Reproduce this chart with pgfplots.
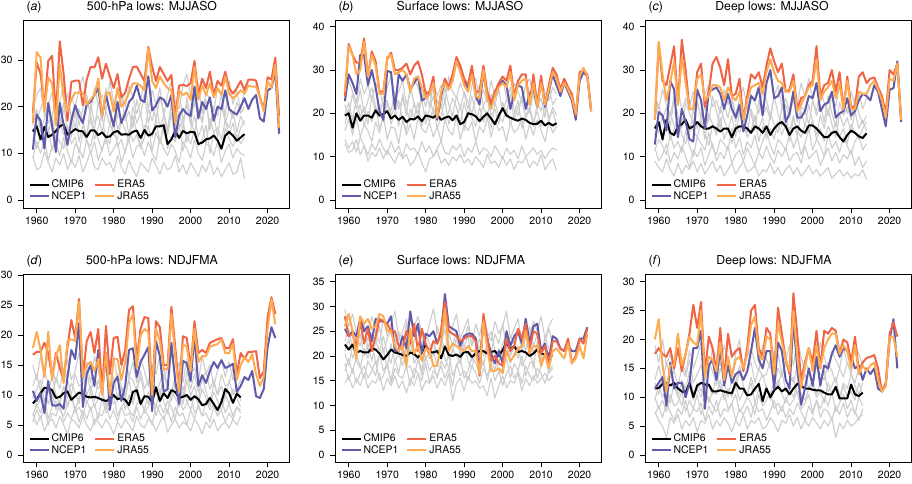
\documentclass[border=0pt]{standalone}
\usepackage{pgfplots}
\usepackage{pgfplotstable}
\pgfplotsset{compat=1.18}
\usepackage{fontspec}
\setmainfont{TeX Gyre Heros}
\definecolor{ncepc}{RGB}{95,90,170}
\definecolor{erac}{RGB}{240,100,70}
\definecolor{jrac}{RGB}{253,170,80}
\definecolor{grayc}{RGB}{205,205,205}
\newcommand{\tfont}{\fontsize{12.3}{14}\selectfont}
\newcommand{\lfont}{\fontsize{10.5}{12}\selectfont}

% ---------- Panel A: 500-hPa lows MJJASO ----------
\pgfplotstableread{
year ncep era jra
1959 10.8 18.6 16.5
1960 18.3 29.5 31.7
1961 17.0 27.0 30.5
1962 11.0 20.0 19.0
1963 20.8 29.8 26.3
1964 16.0 30.9 25.0
1965 10.3 18.0 16.0
1966 20.8 34.0 29.0
1967 16.0 27.0 22.0
1968 11.8 17.0 19.0
1969 17.0 25.3 21.5
1970 20.3 25.6 23.0
1971 18.0 25.6 23.0
1972 16.5 20.3 23.0
1973 20.5 25.8 20.5
1974 21.0 28.5 21.5
1975 22.5 28.4 22.5
1976 24.0 30.6 26.0
1977 18.0 26.0 18.0
1978 22.5 29.2 23.0
1979 19.0 26.5 23.0
1980 15.8 24.0 19.0
1981 21.0 27.0 24.0
1982 16.5 22.0 20.0
1983 18.5 23.0 21.0
1984 21.0 26.0 23.0
1985 22.0 28.5 25.0
1986 24.5 28.6 25.0
1987 21.5 27.0 24.5
1988 21.0 25.5 23.5
1989 26.5 32.8 32.5
1990 19.2 28.5 25.5
1991 20.3 25.5 24.0
1992 22.0 28.5 26.5
1993 21.5 27.0 25.0
1994 20.0 25.5 24.0
1995 22.5 26.8 23.5
1996 13.5 17.8 16.5
1997 18.0 24.5 23.5
1998 19.5 24.7 22.5
1999 18.5 24.4 23.0
2000 18.0 25.0 21.5
2001 24.3 29.8 28.5
2002 17.5 22.5 21.5
2003 21.0 26.0 24.5
2004 19.5 24.0 22.5
2005 22.0 27.5 25.0
2006 17.0 22.5 22.0
2007 20.0 25.5 24.0
2008 19.5 24.5 22.5
2009 23.5 27.5 26.5
2010 19.5 24.0 22.8
2011 18.8 22.8 21.8
2012 18.3 24.0 22.5
2013 20.0 25.5 23.5
2014 21.8 23.5 22.8
2015 19.5 25.8 24.5
2016 21.5 25.8 24.3
2017 22.5 25.6 24.3
2018 17.5 22.0 22.0
2019 16.8 19.5 19.0
2020 23.5 26.3 25.5
2021 24.0 25.8 24.0
2022 27.5 30.5 29.0
2023 14.2 18.0 15.5
}\Aobs
\pgfplotstableread{
year cmip g1 g2 g3 g4 g5 g6 g7
1959 14.7 19.5 21.0 16.0 12.5 15.0 9.0 9.5
1960 15.8 22.5 17.0 19.5 15.5 11.0 12.5 6.5
1961 13.0 24.0 19.5 14.5 17.0 13.5 10.0 7.0
1962 15.7 18.0 22.0 17.5 13.0 12.0 13.0 10.5
1963 13.5 20.5 16.5 20.0 14.5 15.5 8.5 8.0
1964 14.0 23.0 18.0 15.0 18.0 10.5 11.5 6.0
1965 14.8 17.5 21.5 18.5 12.0 14.0 12.0 9.0
1966 15.8 21.0 15.5 16.0 16.5 12.5 9.5 7.5
1967 16.2 25.0 19.0 21.0 14.0 11.0 13.5 10.0
1968 14.0 19.0 23.0 14.0 15.5 16.0 10.5 6.5
1969 14.5 22.0 17.5 18.0 13.5 12.0 8.0 8.5
1970 15.2 20.0 20.5 15.5 19.0 13.5 12.0 7.0
1971 14.8 23.5 16.0 19.5 12.5 10.0 11.0 9.5
1972 14.7 26.5 19.5 17.0 16.0 14.5 9.0 6.0
1973 13.5 21.5 22.5 13.5 14.0 12.5 13.0 8.0
1974 14.9 18.5 18.0 20.5 17.5 11.5 10.0 10.5
1975 14.9 24.0 15.0 16.5 13.0 15.0 12.5 7.0
1976 13.9 20.5 21.0 18.0 15.5 13.0 8.5 6.5
1977 14.5 22.5 17.0 14.5 18.5 10.5 11.0 9.0
1978 13.5 19.0 24.0 19.0 12.0 14.0 13.5 7.5
1979 13.6 25.5 18.5 16.0 16.5 12.0 9.5 8.0
1980 14.5 21.0 16.5 21.5 14.0 16.5 11.0 6.0
1981 14.8 17.5 20.0 15.0 13.0 11.5 12.5 9.5
1982 14.0 23.0 22.5 17.5 17.0 13.0 8.0 7.0
1983 14.1 20.0 17.0 19.0 15.0 10.0 10.5 5.5
1984 14.0 24.5 19.0 13.5 12.5 15.0 13.0 8.5
1985 14.6 22.0 15.5 20.0 18.0 12.5 9.0 6.5
1986 14.9 18.5 21.5 16.5 14.5 14.0 11.5 5.0
1987 13.3 21.0 18.0 18.5 11.5 11.0 12.0 8.0
1988 15.0 26.0 23.0 14.0 16.0 13.5 9.5 7.0
1989 13.8 19.5 16.5 19.5 15.5 16.0 12.5 6.0
1990 14.2 23.5 20.0 17.0 13.5 10.5 10.0 9.0
1991 15.8 20.5 17.5 21.0 17.5 14.5 8.5 7.5
1992 15.8 24.0 22.0 15.5 12.0 12.0 13.5 5.5
1993 16.0 18.0 19.0 18.0 16.5 15.5 11.0 8.0
1994 12.0 22.5 15.0 14.5 14.0 11.0 9.5 6.5
1995 13.0 25.5 21.0 20.5 18.5 13.5 12.0 7.0
1996 14.8 21.0 18.5 16.0 13.0 12.5 10.5 9.5
1997 13.3 19.5 23.5 19.0 15.5 16.5 8.0 6.0
1998 14.8 24.5 17.0 15.0 17.0 10.5 12.5 7.5
1999 14.3 27.0 20.5 22.0 12.5 14.0 11.0 5.5
2000 14.6 22.0 16.0 17.5 15.0 12.0 9.0 8.0
2001 14.5 20.0 22.0 14.0 18.0 15.0 13.0 6.5
2002 12.0 25.0 19.5 19.5 13.5 11.5 10.0 5.0
2003 12.3 18.5 17.0 16.5 16.0 13.0 8.5 7.5
2004 13.0 23.0 21.5 21.0 12.0 16.0 12.0 6.0
2005 13.2 21.5 15.5 15.0 17.5 10.0 11.5 8.5
2006 13.8 19.0 20.0 18.5 14.5 14.5 9.5 5.5
2007 12.8 24.0 18.0 13.5 15.5 12.5 12.5 7.0
2008 11.0 22.5 23.0 20.0 13.0 11.0 8.0 5.0
2009 13.8 18.0 16.5 17.0 17.0 15.5 10.5 6.5
2010 14.6 25.5 19.5 15.5 14.0 13.0 12.0 8.0
2011 13.8 20.5 17.5 19.0 16.5 11.5 9.0 5.5
2012 12.7 23.5 21.0 14.5 12.5 14.0 11.0 6.0
2013 13.4 19.0 18.5 18.0 15.5 12.0 10.0 9.0
2014 14.1 24.0 20.0 16.0 17.0 13.5 9.5 4.5
}\Amod

% ---------- Panel B: Surface lows MJJASO ----------
\pgfplotstableread{
year ncep era jra
1959 22.8 24.0 25.0
1960 29.0 36.0 35.5
1961 27.0 33.5 33.5
1962 24.5 31.7 29.0
1963 33.5 31.7 30.0
1964 33.5 37.3 36.5
1965 26.5 28.5 28.5
1966 30.0 34.3 33.5
1967 26.0 32.0 31.0
1968 20.5 25.0 24.5
1969 18.5 25.0 24.5
1970 29.8 32.5 33.0
1971 29.5 34.0 33.5
1972 21.0 30.0 29.0
1973 29.0 30.0 29.5
1974 27.5 30.5 30.0
1975 29.0 31.5 29.0
1976 25.5 29.0 25.0
1977 27.0 31.0 28.0
1978 28.5 32.0 28.5
1979 23.0 29.0 26.0
1980 23.5 24.5 23.5
1981 24.5 25.0 24.5
1982 28.0 28.5 27.0
1983 18.5 19.0 19.0
1984 24.0 24.5 25.0
1985 27.5 28.0 27.0
1986 25.5 26.0 25.5
1987 28.0 29.0 27.5
1988 32.5 33.0 32.0
1989 30.5 31.0 29.5
1990 27.5 28.0 26.5
1991 26.0 26.5 25.0
1992 29.5 31.0 29.0
1993 24.0 25.0 24.0
1994 22.0 25.0 23.5
1995 29.5 31.0 30.0
1996 24.0 25.0 23.5
1997 22.0 22.5 21.0
1998 24.0 25.0 24.0
1999 26.5 27.0 26.0
2000 27.5 28.5 27.0
2001 26.5 27.5 26.0
2002 21.0 31.0 29.5
2003 24.5 24.0 23.0
2004 26.5 27.5 26.5
2005 26.0 29.0 27.5
2006 21.0 29.0 28.0
2007 24.5 22.0 22.0
2008 26.0 29.0 27.0
2009 21.5 22.0 21.5
2010 28.0 28.7 27.0
2011 21.5 22.0 22.0
2012 25.0 26.5 25.5
2013 29.0 30.5 29.5
2014 26.5 29.0 28.0
2015 24.0 25.5 25.0
2016 27.0 28.0 27.0
2017 25.0 26.0 25.5
2018 23.0 24.5 23.5
2019 18.5 19.5 20.0
2020 27.5 29.5 28.5
2021 29.5 30.0 30.5
2022 28.5 29.0 28.5
2023 20.5 20.5 20.5
}\Bobs
\pgfplotstableread{
year cmip g1 g2 g3 g4 g5 g6 g7
1959 19.5 24.0 22.0 20.0 17.5 16.0 14.0 13.0
1960 20.0 27.5 19.5 22.5 21.0 18.5 12.0 11.0
1961 16.7 25.0 24.5 18.5 16.0 15.0 13.5 11.5
1962 20.0 22.5 21.0 23.5 19.5 19.0 11.0 14.0
1963 18.3 28.0 25.5 19.0 22.0 14.5 14.5 10.5
1964 19.5 24.5 20.0 21.5 17.0 17.5 12.5 12.5
1965 19.5 26.5 23.0 17.5 20.5 16.0 10.5 9.0
1966 19.0 23.0 26.0 24.0 18.0 13.5 13.0 11.0
1967 20.7 27.0 21.5 20.0 21.5 18.0 11.5 10.0
1968 19.5 25.5 19.0 22.0 16.5 15.5 14.0 12.0
1969 19.8 21.5 24.0 18.0 19.0 19.5 12.0 9.5
1970 20.5 26.0 22.5 23.0 22.5 14.0 10.5 11.5
1971 18.8 28.5 20.5 19.5 17.5 17.0 13.5 10.0
1972 19.5 23.5 25.0 21.5 20.0 16.5 11.0 8.5
1973 18.5 25.0 21.0 17.0 23.0 13.0 12.5 11.0
1974 19.2 27.5 23.5 24.5 18.5 18.5 10.0 9.5
1975 18.0 22.0 19.5 20.5 16.0 15.0 13.0 10.5
1976 18.7 24.5 26.5 18.5 21.0 17.5 11.5 8.0
1977 18.6 28.0 22.0 22.5 19.0 14.0 12.0 9.0
1978 19.3 26.0 20.0 19.0 22.5 19.0 10.5 11.0
1979 18.2 23.0 24.5 23.5 17.0 16.5 13.5 8.5
1980 19.5 25.5 21.5 17.5 20.5 15.5 11.0 6.5
1981 19.3 21.5 25.5 21.0 18.0 18.0 12.5 9.5
1982 19.0 27.0 19.0 24.0 21.5 14.5 10.0 10.0
1983 19.7 24.0 23.0 19.5 16.5 17.0 12.0 11.5
1984 18.5 26.5 21.0 22.0 19.5 13.5 13.5 8.5
1985 19.0 22.5 26.0 18.0 23.0 18.5 11.0 9.5
1986 19.3 28.5 22.0 20.5 17.5 16.0 10.5 8.0
1987 18.4 25.0 19.5 23.5 20.0 15.0 12.5 10.0
1988 19.5 23.5 24.0 21.5 18.5 19.5 11.5 9.0
1989 17.5 27.0 21.0 17.5 22.0 14.0 13.0 10.5
1990 18.0 24.5 25.0 22.5 16.0 17.5 10.0 8.5
1991 20.0 21.0 22.5 19.0 20.5 16.0 12.0 9.5
1992 19.8 26.5 20.0 24.0 19.0 18.0 11.0 8.0
1993 19.3 28.0 23.5 20.0 17.0 13.5 13.5 10.0
1994 18.2 23.0 26.5 18.5 21.5 17.0 10.5 9.0
1995 19.2 25.5 21.5 22.0 18.0 15.5 12.0 7.5
1996 20.0 22.5 19.0 23.5 20.5 19.0 11.5 10.5
1997 18.8 27.5 24.5 19.5 16.5 14.5 10.0 8.5
1998 17.5 24.0 22.0 21.0 22.5 18.5 12.5 9.0
1999 19.5 26.0 25.5 17.5 19.5 16.0 11.0 7.5
2000 21.2 28.5 20.5 22.5 18.0 17.0 9.5 10.0
2001 19.5 23.5 23.0 20.0 21.0 13.5 12.0 8.0
2002 19.0 21.5 26.0 24.5 17.5 18.0 10.5 9.5
2003 18.6 27.0 21.0 18.5 20.0 15.5 11.5 7.0
2004 18.3 25.0 19.5 21.5 23.0 16.5 9.5 9.0
2005 18.8 22.5 24.0 23.0 16.5 19.0 12.5 8.5
2006 18.5 26.5 22.5 19.0 19.5 14.0 10.0 10.0
2007 17.8 28.0 20.0 21.0 21.5 17.5 11.0 7.5
2008 17.5 24.0 25.0 17.0 18.0 15.0 12.0 9.0
2009 17.6 21.0 21.5 22.5 20.5 18.5 10.5 8.0
2010 18.3 27.5 23.5 20.5 17.0 16.0 11.5 10.5
2011 17.2 25.0 19.0 24.0 22.0 13.5 9.5 7.0
2012 17.8 23.0 26.5 18.0 19.0 18.0 11.0 8.5
2013 17.2 26.0 22.0 21.5 20.5 15.5 12.0 9.5
2014 17.7 24.5 23.5 19.5 17.5 17.0 11.5 6.8
}\Bmod

% ---------- Panel C: Deep lows MJJASO ----------
\pgfplotstableread{
year ncep era jra
1959 12.8 18.5 18.5
1960 20.3 36.0 36.5
1961 19.5 27.5 29.0
1962 16.0 26.5 23.0
1963 27.5 31.0 27.0
1964 25.5 35.5 32.0
1965 14.5 22.0 22.0
1966 21.0 37.0 33.0
1967 18.0 30.0 27.0
1968 14.0 21.0 21.0
1969 13.5 21.0 21.0
1970 25.5 29.5 28.0
1971 23.0 31.5 29.0
1972 16.5 21.5 23.0
1973 25.0 25.0 24.0
1974 25.5 31.5 26.5
1975 26.0 33.0 26.5
1976 24.5 30.5 26.0
1977 21.0 26.5 23.0
1978 24.5 32.5 26.0
1979 21.0 24.0 24.0
1980 19.0 24.5 23.0
1981 22.0 28.0 25.0
1982 15.8 18.5 18.5
1983 19.5 24.0 23.0
1984 24.0 29.0 26.0
1985 23.0 28.0 26.5
1986 26.0 29.5 27.0
1987 19.5 26.0 24.5
1988 27.0 31.0 29.5
1989 30.0 35.0 32.5
1990 23.5 32.0 29.5
1991 24.0 29.5 27.5
1992 26.0 31.5 27.0
1993 18.0 25.0 25.0
1994 20.0 25.5 25.0
1995 25.0 29.0 27.5
1996 19.0 21.0 20.5
1997 19.0 23.5 22.0
1998 20.5 24.0 24.0
1999 24.0 26.5 26.0
2000 23.5 27.5 26.5
2001 27.0 35.5 32.5
2002 20.5 24.0 23.0
2003 22.0 26.5 25.0
2004 22.5 27.0 26.0
2005 25.0 30.0 27.5
2006 19.0 25.0 23.5
2007 20.0 29.5 27.0
2008 20.5 21.0 21.0
2009 23.5 28.5 27.5
2010 19.5 21.5 21.0
2011 20.5 21.5 21.0
2012 23.0 28.5 25.0
2013 24.5 29.5 24.5
2014 24.0 27.0 24.5
2015 23.0 28.0 26.5
2016 26.5 28.3 27.5
2017 25.0 26.0 25.5
2018 21.0 24.0 23.0
2019 17.0 20.0 19.0
2020 25.5 30.0 28.0
2021 25.8 29.0 27.5
2022 32.0 31.5 31.5
2023 18.0 18.5 18.5
}\Cobs
\pgfplotstableread{
year cmip g1 g2 g3 g4 g5 g6 g7
1959 16.5 24.5 19.0 17.5 15.0 11.5 12.0 9.0
1960 18.0 21.0 22.0 15.5 17.5 14.0 9.0 7.5
1961 14.0 25.5 18.5 19.5 13.5 12.5 10.5 6.5
1962 18.5 22.0 21.5 16.0 18.5 10.5 13.0 9.5
1963 15.5 19.5 17.0 20.5 14.0 15.0 8.5 7.0
1964 15.0 24.0 23.5 17.0 16.5 12.0 11.0 5.5
1965 17.0 26.0 19.5 14.5 19.0 13.5 9.5 8.5
1966 17.5 20.5 16.5 19.0 15.0 11.0 12.5 6.0
1967 18.5 23.5 22.5 18.0 13.0 16.0 10.0 8.0
1968 16.5 21.5 20.0 15.0 17.0 12.5 7.5 7.0
1969 17.0 25.0 17.5 21.0 16.0 10.0 11.5 9.0
1970 18.0 22.5 23.0 16.5 14.5 14.5 10.0 6.5
1971 17.0 19.0 19.0 19.0 18.0 13.0 12.0 8.5
1972 16.5 24.5 21.5 14.0 15.5 11.5 8.0 6.0
1973 16.5 26.5 18.0 20.0 12.5 15.5 10.5 7.5
1974 17.0 21.5 24.0 17.5 17.5 12.0 13.0 9.0
1975 16.5 23.0 20.5 15.5 15.0 10.5 9.0 6.5
1976 15.8 20.0 16.5 21.5 19.0 14.0 11.0 8.0
1977 16.5 25.5 22.0 18.5 14.0 13.0 9.5 5.5
1978 16.5 22.0 19.0 16.0 16.5 11.5 12.5 7.0
1979 14.5 24.0 23.5 19.5 13.0 16.5 8.5 8.5
1980 16.5 19.5 18.0 14.5 17.5 12.0 10.5 6.0
1981 17.0 23.5 21.0 20.5 15.5 14.5 11.5 7.5
1982 17.0 26.0 17.5 17.0 18.5 10.5 9.0 9.0
1983 16.5 21.0 22.5 15.5 14.5 13.5 12.0 6.5
1984 15.5 24.5 20.0 21.0 16.0 12.0 10.0 7.0
1985 17.0 22.5 16.0 18.0 19.5 15.0 8.0 8.0
1986 16.5 20.0 23.0 16.5 13.5 11.0 11.0 5.5
1987 15.5 25.0 19.5 19.0 17.0 13.5 9.5 7.0
1988 17.0 23.0 21.5 14.0 15.5 16.0 12.5 6.5
1989 15.0 19.5 18.5 20.0 16.5 12.5 10.0 8.5
1990 16.5 24.0 24.0 17.5 14.0 10.5 8.5 6.0
1991 17.5 26.5 20.0 15.5 18.0 14.0 11.5 7.5
1992 18.0 21.5 17.0 21.5 15.0 13.0 10.0 5.5
1993 17.0 23.5 22.0 18.5 17.5 11.5 12.0 7.0
1994 15.0 20.5 19.0 16.0 13.5 15.5 9.0 8.0
1995 16.5 25.5 23.5 19.5 19.0 12.0 10.5 6.0
1996 17.0 22.0 18.0 14.5 16.0 14.5 11.0 7.5
1997 16.0 27.0 21.5 20.5 14.5 10.5 8.5 5.5
1998 15.5 24.0 20.5 17.0 17.5 13.0 12.5 6.5
1999 17.2 28.0 17.5 22.0 15.5 16.5 9.5 8.0
2000 17.2 23.0 23.0 18.0 18.5 11.5 10.5 6.0
2001 16.5 20.5 19.5 15.0 14.0 14.0 11.5 7.0
2002 15.5 25.5 22.0 19.5 16.5 12.5 8.0 5.5
2003 14.5 22.5 18.0 16.5 13.5 10.0 10.0 6.5
2004 14.5 19.5 24.0 21.0 17.0 15.0 12.0 7.5
2005 15.5 24.5 20.0 17.5 15.0 12.0 9.0 5.0
2006 15.8 21.5 17.0 14.5 18.0 13.5 11.0 6.0
2007 14.5 26.0 22.5 20.0 14.5 11.0 8.5 7.0
2008 13.5 23.0 19.5 17.0 16.5 14.5 10.5 5.5
2009 15.0 20.0 21.5 19.0 13.0 12.5 9.5 6.5
2010 16.0 25.0 18.5 15.5 17.5 10.5 11.5 5.0
2011 15.5 22.0 23.5 20.5 15.5 13.5 8.0 6.0
2012 14.7 24.5 20.0 16.5 14.0 15.0 10.0 5.5
2013 14.3 21.0 17.5 18.5 16.5 11.5 7.5 7.0
2014 15.4 23.5 19.5 16.0 18.0 13.0 9.0 4.7
}\Cmod

% ---------- Panel D: 500-hPa lows NDJFMA ----------
\pgfplotstableread{
year ncep era jra
1959 10.7 16.7 17.8
1960 9.0 17.2 20.5
1961 10.3 17.2 17.5
1962 7.0 18.7 13.0
1963 12.3 17.0 20.5
1964 8.3 13.0 12.5
1965 8.2 17.0 16.5
1966 8.5 14.5 18.3
1967 7.7 12.5 12.0
1968 13.0 18.0 19.0
1969 17.5 22.5 19.3
1970 16.0 19.5 19.0
1971 22.0 26.0 25.5
1972 8.0 13.0 13.0
1973 13.5 19.0 15.0
1974 15.0 20.5 15.5
1975 11.5 17.0 14.0
1976 17.5 21.0 16.0
1977 10.5 10.5 10.0
1978 17.0 21.5 17.0
1979 7.5 13.5 10.0
1980 12.0 19.5 16.0
1981 13.0 19.7 16.0
1982 9.0 15.0 12.5
1983 11.5 17.5 15.5
1984 17.5 24.2 22.0
1985 17.8 24.8 23.5
1986 13.0 16.0 14.5
1987 15.5 21.0 20.0
1988 16.7 23.0 21.0
1989 18.0 22.8 20.5
1990 7.3 10.0 10.0
1991 19.0 22.3 21.0
1992 16.5 21.3 19.0
1993 10.5 15.0 14.3
1994 11.0 15.0 14.3
1995 18.7 24.7 23.5
1996 12.3 18.0 16.5
1997 8.5 11.0 10.5
1998 15.7 19.8 18.5
1999 15.3 19.5 18.0
2000 12.3 14.5 14.0
2001 20.0 22.3 21.0
2002 11.5 17.0 15.5
2003 13.3 17.5 16.5
2004 12.0 17.0 16.5
2005 14.0 18.7 18.0
2006 15.5 19.0 18.3
2007 14.5 19.3 18.5
2008 15.8 19.5 19.3
2009 14.5 17.8 17.0
2010 14.8 17.8 17.0
2011 15.2 19.3 18.5
2012 10.5 13.5 12.5
2013 11.5 17.0 15.0
2014 13.0 16.0 16.3
2015 12.5 17.2 15.5
2016 14.0 17.2 16.8
2017 9.8 17.3 13.5
2018 9.5 12.8 11.5
2019 11.0 14.0 13.0
2020 18.0 23.0 21.0
2021 21.3 26.3 26.0
2022 19.5 23.5 21.8
}\Dobs
\pgfplotstableread{
year cmip g1 g2 g3 g4 g5 g6 g7
1959 8.6 15.0 11.5 9.5 10.0 6.5 5.5 7.0
1960 9.3 12.5 13.5 11.0 8.0 8.5 7.5 5.0
1961 10.3 16.5 10.5 12.5 9.5 7.0 6.0 6.5
1962 11.2 13.0 14.0 9.0 11.0 9.5 8.0 4.0
1963 11.2 17.0 12.0 10.5 8.5 6.0 5.0 5.5
1964 10.8 14.5 9.5 13.0 10.5 8.0 7.0 6.0
1965 9.5 12.0 13.0 10.0 7.5 9.0 6.5 4.5
1966 9.7 15.5 11.0 8.5 9.0 7.5 8.5 6.5
1967 10.3 13.5 14.5 11.5 11.5 6.5 5.5 5.0
1968 10.6 16.0 12.5 9.5 8.0 8.5 7.0 3.5
1969 9.2 12.5 10.0 12.0 10.0 10.0 6.0 6.0
1970 9.8 14.0 13.5 10.5 7.5 7.0 8.0 5.5
1971 10.4 17.0 11.5 8.5 9.5 8.0 5.5 4.5
1972 10.2 13.0 12.0 13.5 11.0 6.5 7.5 6.5
1973 9.7 15.5 14.0 10.0 8.5 9.0 6.0 5.0
1974 9.6 12.0 10.5 11.5 10.5 7.5 8.0 4.0
1975 9.7 16.5 13.0 9.0 8.0 8.5 5.0 6.0
1976 9.5 14.0 11.0 12.5 9.5 6.0 7.0 5.5
1977 9.2 11.5 12.5 10.5 11.5 9.5 6.5 4.5
1978 9.0 15.0 14.5 8.0 7.5 7.0 8.5 6.0
1979 9.3 13.5 10.0 11.0 10.0 8.0 6.0 5.0
1980 10.0 16.5 12.0 13.0 8.5 10.0 7.5 3.5
1981 9.3 12.5 13.5 9.5 9.0 6.5 5.5 5.5
1982 9.5 14.5 11.5 11.5 11.0 8.0 8.0 4.5
1983 9.2 17.0 9.5 10.0 7.5 9.0 6.5 6.0
1984 8.3 13.0 13.0 12.5 10.0 7.5 7.0 5.0
1985 10.5 15.5 12.5 9.0 8.5 6.5 5.5 4.0
1986 10.8 12.0 10.5 11.0 11.5 8.5 8.0 6.5
1987 8.5 16.0 14.0 13.0 9.0 9.5 6.0 5.0
1988 9.8 14.0 11.0 10.0 7.5 7.0 7.5 4.5
1989 9.7 11.5 12.5 8.5 10.5 8.0 6.5 6.0
1990 8.8 15.0 13.5 12.0 9.5 10.0 5.0 5.5
1991 11.3 13.5 10.0 10.5 8.0 6.5 8.5 4.0
1992 9.0 16.5 12.0 9.5 11.0 8.5 7.0 5.5
1993 10.3 12.5 14.5 13.5 9.0 7.0 6.0 6.5
1994 9.5 14.5 11.5 11.0 7.0 9.0 7.5 3.8
1995 10.8 17.0 10.5 9.0 10.5 8.0 5.5 5.0
1996 10.5 13.0 13.0 12.0 9.5 6.0 8.0 6.0
1997 9.5 15.5 12.5 10.5 8.0 9.5 6.5 4.5
1998 9.7 12.0 9.5 8.5 11.5 7.5 7.0 5.5
1999 10.0 16.0 14.0 12.5 9.0 8.5 5.0 5.0
2000 9.2 13.5 11.0 10.0 7.5 10.0 7.5 4.0
2001 9.8 14.5 13.5 11.5 10.0 7.0 6.0 6.0
2002 9.3 12.0 10.5 9.0 8.5 8.0 8.5 5.0
2003 8.3 16.5 12.5 13.0 11.0 6.5 6.5 3.5
2004 8.5 13.5 14.0 10.5 9.5 9.0 7.0 5.5
2005 9.5 15.0 11.0 8.5 8.0 7.5 5.5 4.5
2006 8.5 11.5 12.5 12.0 10.5 8.5 8.0 6.0
2007 7.5 14.0 10.0 10.0 9.0 6.5 6.5 4.0
2008 8.8 16.0 13.5 11.5 7.5 9.5 7.5 5.0
2009 11.0 13.0 11.5 9.5 10.0 7.0 5.5 5.5
2010 10.3 15.5 12.0 12.5 8.5 8.5 7.0 4.5
2011 8.7 12.5 14.5 10.0 11.0 6.5 6.0 6.0
2012 10.2 14.0 11.0 11.5 9.5 8.0 8.0 5.0
2013 9.6 15.0 12.5 9.0 8.0 7.5 7.0 6.5
}\Dmod

% ---------- Panel E: Surface lows NDJFMA ----------
\pgfplotstableread{
year ncep era jra
1959 25.5 28.0 26.0
1960 24.0 24.0 28.5
1961 25.0 24.5 25.0
1962 24.0 22.0 19.5
1963 27.5 27.0 28.0
1964 25.0 22.5 26.5
1965 26.0 25.5 27.5
1966 23.0 21.0 25.5
1967 27.5 24.0 26.0
1968 27.0 27.5 28.5
1969 27.0 27.0 28.0
1970 26.5 26.5 25.0
1971 28.0 25.0 25.0
1972 21.0 25.0 22.0
1973 21.0 22.0 21.0
1974 24.0 21.5 22.0
1975 21.5 25.0 18.0
1976 29.0 22.5 25.5
1977 24.0 26.5 20.5
1978 26.5 21.0 22.0
1979 20.5 25.5 19.0
1980 24.5 22.5 21.5
1981 24.0 20.5 21.0
1982 25.0 23.0 18.0
1983 22.5 22.5 18.0
1984 24.5 25.0 22.5
1985 32.5 31.0 29.5
1986 26.0 25.0 21.0
1987 25.5 24.5 22.5
1988 25.0 24.0 22.0
1989 22.0 23.0 21.5
1990 24.0 23.5 21.0
1991 24.5 24.0 22.0
1992 24.5 24.0 21.0
1993 23.5 23.0 21.0
1994 17.0 16.0 16.5
1995 27.0 28.5 27.0
1996 23.5 23.5 21.5
1997 20.5 19.0 17.0
1998 18.5 20.0 17.0
1999 21.0 18.5 17.5
2000 18.5 18.0 16.5
2001 25.0 23.5 21.0
2002 22.0 21.0 19.0
2003 24.0 22.0 20.0
2004 25.0 25.5 21.5
2005 22.5 23.5 22.0
2006 27.5 26.5 25.0
2007 22.5 21.5 20.5
2008 26.0 25.0 22.0
2009 26.5 24.5 22.0
2010 21.0 20.5 18.0
2011 22.5 22.0 20.5
2012 19.0 18.5 17.5
2013 24.0 23.0 21.0
2014 23.5 23.0 21.5
2015 21.5 21.5 20.5
2016 21.0 21.0 19.5
2017 22.0 23.5 22.5
2018 21.0 18.5 18.5
2019 21.0 20.0 19.5
2020 23.5 23.5 22.0
2021 23.5 22.5 19.5
2022 25.8 25.5 24.5
}\Eobs
\pgfplotstableread{
year cmip g1 g2 g3 g4 g5 g6 g7
1959 22.3 29.5 23.0 21.0 20.5 17.0 18.5 14.5
1960 21.3 26.0 25.5 23.5 18.0 19.5 15.0 16.0
1961 22.3 28.5 21.5 19.5 22.0 16.5 17.5 13.5
1962 20.7 24.5 24.0 22.0 19.0 20.0 14.5 15.5
1963 21.0 27.0 22.0 24.5 17.5 18.0 16.5 14.0
1964 20.7 25.5 26.5 20.0 21.5 15.5 18.0 16.5
1965 20.7 23.0 21.0 22.5 19.5 19.0 15.5 13.5
1966 21.5 28.0 24.5 19.0 23.0 17.5 17.0 15.0
1967 21.3 25.0 22.5 23.0 18.5 16.0 19.0 14.5
1968 20.5 22.5 26.0 21.0 20.0 20.5 15.0 16.5
1969 19.3 27.5 20.5 24.0 21.5 17.0 16.0 13.0
1970 20.2 24.0 23.5 20.5 17.5 18.5 18.5 15.5
1971 21.3 26.5 25.0 18.5 22.5 15.0 14.5 14.0
1972 20.7 29.0 21.5 22.5 19.0 19.5 17.5 16.0
1973 20.5 23.5 24.0 25.0 20.5 16.5 16.0 13.5
1974 20.2 25.0 22.0 19.5 18.0 21.0 15.5 15.0
1975 20.0 27.5 26.5 21.5 21.0 17.5 18.0 12.5
1976 20.7 22.0 20.5 23.5 23.5 18.0 14.0 15.5
1977 20.4 26.0 23.0 20.0 18.5 15.5 17.5 14.0
1978 19.7 28.0 25.5 22.0 20.0 19.5 16.5 16.5
1979 20.7 24.5 21.0 24.5 17.0 16.0 15.0 13.0
1980 22.3 23.0 24.5 19.0 22.0 20.0 18.5 15.0
1981 20.8 26.5 22.5 21.5 19.5 17.0 14.5 14.5
1982 20.7 29.5 20.0 23.0 21.0 18.5 17.0 16.0
1983 21.0 25.0 26.0 20.5 18.0 15.5 16.0 13.5
1984 19.5 22.5 23.5 22.5 23.0 19.0 18.0 15.5
1985 21.9 27.0 21.5 25.5 19.5 17.5 15.5 14.0
1986 20.2 24.0 24.5 19.5 17.5 20.5 17.5 16.5
1987 20.0 26.0 22.0 21.0 21.5 16.0 14.0 11.0
1988 20.3 28.5 25.0 23.5 20.0 18.0 18.5 14.5
1989 19.8 23.5 20.5 20.0 18.5 19.5 16.0 15.5
1990 20.8 25.5 23.5 22.0 22.5 15.5 17.0 13.0
1991 20.8 27.5 26.0 24.0 19.0 17.0 15.0 16.0
1992 19.8 22.0 22.0 19.0 17.5 20.0 18.0 14.5
1993 20.5 26.5 24.0 21.5 21.0 18.5 16.5 15.0
1994 21.0 24.0 21.0 23.5 20.5 16.5 14.5 13.5
1995 21.0 28.0 25.5 20.0 18.0 19.0 17.5 14.0
1996 20.5 25.0 23.0 22.5 22.0 15.0 16.0 12.0
1997 20.8 23.0 20.5 25.0 19.5 18.0 18.5 15.5
1998 21.0 27.0 24.5 21.0 17.0 20.5 15.0 11.5
1999 20.0 24.5 22.5 18.5 21.5 16.5 17.0 14.0
2000 21.2 26.0 26.5 22.5 20.0 17.5 14.0 16.0
2001 22.8 29.0 21.5 24.5 23.0 19.5 16.5 13.5
2002 21.3 23.5 24.0 20.0 18.5 15.5 18.0 15.0
2003 22.0 25.5 22.5 22.0 20.5 18.5 15.5 14.5
2004 20.8 27.5 25.0 19.5 22.0 17.0 17.0 16.5
2005 21.0 22.5 21.0 23.5 18.0 20.0 14.5 13.0
2006 20.7 26.5 23.5 21.0 19.5 16.0 18.0 15.5
2007 20.0 24.0 26.0 25.0 21.5 18.5 16.0 14.0
2008 20.5 27.0 22.0 20.5 17.5 19.0 15.0 16.0
2009 21.3 25.0 24.5 22.5 23.0 15.5 17.5 14.5
2010 20.5 28.0 21.5 19.0 19.0 18.0 16.5 15.5
2011 20.3 23.5 23.0 24.0 20.5 20.0 14.5 16.5
2012 20.5 26.0 25.5 21.5 18.5 16.5 17.0 15.0
2013 20.0 27.5 22.5 20.0 21.0 17.5 18.0 16.0
}\Emod

% ---------- Panel F: Deep lows NDJFMA ----------
\pgfplotstableread{
year ncep era jra
1959 11.5 17.5 20.0
1960 12.5 18.5 23.5
1961 13.5 17.5 15.5
1962 8.5 17.0 11.0
1963 16.0 18.5 15.5
1964 11.5 15.0 15.5
1965 12.5 18.5 21.0
1966 12.5 14.5 15.5
1967 10.0 17.5 17.5
1968 12.5 21.0 20.5
1969 18.5 26.0 19.5
1970 18.5 22.0 19.0
1971 21.5 26.5 25.0
1972 8.0 14.0 13.5
1973 15.5 20.5 17.0
1974 16.5 18.5 16.5
1975 13.0 14.5 14.5
1976 18.5 22.0 19.5
1977 12.0 13.0 13.0
1978 15.5 21.0 17.0
1979 12.5 17.0 13.5
1980 14.0 18.0 16.5
1981 14.5 18.5 17.0
1982 13.0 14.5 15.0
1983 14.5 18.5 17.5
1984 18.0 25.0 22.5
1985 22.0 26.0 24.0
1986 16.5 18.5 17.5
1987 15.0 17.0 16.5
1988 18.0 22.0 20.5
1989 18.0 21.0 20.0
1990 11.5 14.0 14.0
1991 19.5 25.5 23.0
1992 18.0 21.0 19.5
1993 13.0 16.5 16.5
1994 11.5 14.0 14.5
1995 23.5 28.0 25.0
1996 15.0 21.0 17.0
1997 8.7 13.0 11.5
1998 11.5 16.0 15.5
1999 15.0 18.5 18.5
2000 12.0 16.0 14.5
2001 17.0 21.5 19.0
2002 12.0 15.0 15.0
2003 15.5 21.5 18.5
2004 15.0 21.0 20.0
2005 17.5 22.0 21.0
2006 19.0 21.5 21.0
2007 17.0 17.5 17.5
2008 18.5 20.0 19.0
2009 18.0 19.5 18.0
2010 17.0 16.0 15.0
2011 15.0 20.5 19.0
2012 15.5 14.5 14.0
2013 13.0 16.0 15.5
2014 15.0 16.8 14.5
2015 14.0 17.0 15.5
2016 15.0 17.3 16.0
2017 11.5 15.0 13.0
2018 11.0 11.0 11.0
2019 12.0 12.5 12.0
2020 20.0 21.0 20.5
2021 23.5 23.0 20.5
2022 15.0 20.5 17.0
}\Fobs
\pgfplotstableread{
year cmip g1 g2 g3 g4 g5 g6 g7
1959 11.5 19.0 13.0 12.5 9.5 10.0 7.0 7.5
1960 11.6 16.0 15.5 10.5 12.0 8.0 8.5 6.0
1961 12.3 20.0 12.5 13.5 10.0 9.5 6.5 5.0
1962 12.5 15.5 16.0 11.0 11.5 7.5 9.0 3.0
1963 12.0 17.5 13.5 14.0 9.0 10.5 7.5 6.5
1964 12.5 14.5 14.5 12.0 12.5 8.5 6.0 5.5
1965 11.5 18.5 12.0 10.0 10.5 9.0 8.0 7.0
1966 11.0 16.5 15.0 13.0 8.5 11.0 7.0 4.5
1967 10.8 14.0 13.5 11.5 11.0 7.5 9.5 6.0
1968 12.5 18.0 16.5 14.5 12.0 9.5 6.5 5.0
1969 10.0 15.0 12.5 10.5 9.5 8.0 8.0 6.5
1970 12.0 17.0 14.0 12.5 11.5 10.5 7.5 4.0
1971 12.5 19.5 15.5 11.0 10.0 7.0 9.0 6.0
1972 12.2 16.0 13.0 13.5 12.5 9.0 6.0 5.5
1973 12.2 14.5 16.0 12.0 9.0 10.0 8.5 7.0
1974 11.0 18.5 14.5 10.5 11.0 8.5 7.0 4.5
1975 11.0 17.0 12.0 14.0 10.5 7.5 9.5 6.0
1976 11.2 15.5 15.0 11.5 13.0 9.5 6.5 5.0
1977 11.0 19.0 13.5 12.5 9.5 11.0 8.0 6.5
1978 10.8 16.5 16.5 10.0 11.5 8.0 7.5 5.5
1979 10.7 14.0 14.0 13.0 10.0 9.0 9.0 4.0
1980 12.5 17.5 12.5 11.5 12.0 10.5 6.0 6.0
1981 11.5 20.0 15.5 14.5 9.5 7.5 8.0 5.0
1982 11.5 15.0 13.0 12.0 11.0 8.5 7.0 7.0
1983 10.3 17.0 14.5 10.5 10.5 10.0 8.5 4.5
1984 10.5 18.5 16.0 13.5 12.5 9.0 6.5 6.0
1985 11.5 16.0 12.5 11.0 9.0 7.0 9.0 5.5
1986 12.3 14.5 15.0 12.5 11.5 10.5 7.5 6.5
1987 9.3 19.0 13.5 14.0 10.0 8.5 8.0 4.5
1988 11.5 16.5 14.0 11.5 12.0 9.5 6.0 5.0
1989 10.0 15.0 16.5 10.0 9.5 11.0 7.5 6.5
1990 11.2 18.0 12.0 13.0 11.0 8.0 9.5 5.5
1991 11.8 17.5 15.0 12.0 13.0 9.0 7.0 4.0
1992 11.0 14.0 13.5 14.5 10.5 7.5 8.5 6.0
1993 11.5 16.5 16.0 11.0 9.0 10.0 6.5 5.5
1994 10.5 19.0 14.0 12.5 11.5 8.5 8.0 7.0
1995 11.5 15.5 12.5 13.5 10.0 9.5 7.0 5.0
1996 12.3 20.0 15.5 10.5 12.5 11.0 9.0 6.5
1997 12.0 17.0 13.0 12.0 10.5 8.0 7.5 4.5
1998 11.5 14.5 16.5 14.0 9.5 9.0 6.0 6.0
1999 11.5 18.5 14.5 11.5 11.5 10.5 8.5 5.0
2000 11.3 16.0 12.0 13.0 12.0 7.5 7.0 6.5
2001 11.2 15.0 15.5 10.5 10.0 9.5 9.5 5.5
2002 11.2 19.5 14.0 12.5 11.0 8.0 6.5 4.5
2003 10.8 17.0 13.0 14.5 9.0 10.0 8.0 6.0
2004 10.5 14.5 16.0 11.0 12.5 8.5 7.5 5.0
2005 10.5 18.0 14.5 12.0 10.5 11.0 6.0 6.5
2006 11.8 16.5 12.5 13.5 11.5 7.5 8.5 3.0
2007 9.8 15.0 15.0 10.0 9.5 9.0 7.0 5.5
2008 9.8 18.5 13.5 12.5 12.0 10.5 9.0 4.5
2009 9.8 16.0 16.0 11.5 10.0 8.0 6.5 6.0
2010 12.2 14.0 14.0 14.0 11.0 9.5 8.0 5.0
2011 10.5 19.0 12.5 12.0 9.5 7.0 7.5 5.5
2012 10.2 17.5 15.0 10.5 12.5 10.0 6.0 6.5
2013 10.8 15.5 13.5 12.5 10.5 8.5 8.0 7.0
}\Fmod

\pgfplotsset{
  panel/.style={
    scale only axis, width=266pt, height=188pt, anchor=south west,
    xmin=1956.44, xmax=2025.56,
    xtick={1960,1970,...,2020},
    tick align=outside, xtick pos=left, ytick pos=left,
    major tick length=5pt,
    every tick/.style={black, line width=0.6pt},
    axis line style={black, line width=0.7pt},
    tick label style={font=\lfont},
    /pgf/number format/assume math mode=true,
    x tick label style={/pgf/number format/1000 sep={}, yshift=-1pt},
    y tick label style={xshift=-2pt},
    no markers,
    legend columns=2,
    legend cell align=left,
    legend image code/.code={\draw[##1] (0pt,0pt) -- (19pt,0pt);},
    legend style={draw=none, fill=none, font=\lfont,
      at={(axis description cs:0.02,0.025)}, anchor=south west,
      inner sep=0pt, row sep=-1.5pt,
      /tikz/every even column/.append style={column sep=6pt}},
  },
  grl/.style={color=grayc, line width=1.1pt, line join=round},
  cml/.style={color=black, line width=2pt, line join=round},
  ncl/.style={color=ncepc, line width=2pt, line join=round},
  erl/.style={color=erac, line width=2pt, line join=round},
  jrl/.style={color=jrac, line width=2pt, line join=round},
}
\newcommand{\panelplots}[2]{%
  \addlegendimage{cml}\addlegendentry{CMIP6}
  \addlegendimage{erl}\addlegendentry{ERA5}
  \addlegendimage{ncl}\addlegendentry{NCEP1}
  \addlegendimage{jrl}\addlegendentry{JRA55}
  \addplot[grl, forget plot] table[x=year, y=g1] {#2};
  \addplot[grl, forget plot] table[x=year, y=g2] {#2};
  \addplot[grl, forget plot] table[x=year, y=g3] {#2};
  \addplot[grl, forget plot] table[x=year, y=g4] {#2};
  \addplot[grl, forget plot] table[x=year, y=g5] {#2};
  \addplot[grl, forget plot] table[x=year, y=g6] {#2};
  \addplot[grl, forget plot] table[x=year, y=g7] {#2};
  \addplot[cml, forget plot] table[x=year, y=cmip] {#2};
  \addplot[ncl, forget plot] table[x=year, y=ncep] {#1};
  \addplot[erl, forget plot] table[x=year, y=era] {#1};
  \addplot[jrl, forget plot] table[x=year, y=jra] {#1};
}

\begin{document}
\begin{tikzpicture}
\useasboundingbox (0pt,0pt) rectangle (912pt,483pt);

\begin{axis}[panel, at={(23pt,275pt)}, ymin=-1.71, ymax=38.57, ytick={0,10,20,30}]
\panelplots{\Aobs}{\Amod}
\end{axis}
\begin{axis}[panel, at={(335pt,275pt)}, ymin=-1.85, ymax=41.55, ytick={0,10,20,30,40}]
\panelplots{\Bobs}{\Bmod}
\end{axis}
\begin{axis}[panel, at={(645pt,275pt)}, ymin=-1.85, ymax=41.55, ytick={0,10,20,30,40}]
\panelplots{\Cobs}{\Cmod}
\end{axis}
\begin{axis}[panel, at={(23pt,21pt)}, ymin=-1.17, ymax=30.17, ytick={0,5,...,30}]
\panelplots{\Dobs}{\Dmod}
\end{axis}
\begin{axis}[panel, at={(335pt,21pt)}, ymin=-1.41, ymax=36.55, ytick={0,5,...,35}]
\panelplots{\Eobs}{\Emod}
\end{axis}
\begin{axis}[panel, at={(645pt,21pt)}, ymin=-1.21, ymax=31.33, ytick={0,5,...,30}]
\panelplots{\Fobs}{\Fmod}
\end{axis}

\node[anchor=base west, font=\tfont] at (23pt,472pt) {(\textit{a})};
\node[anchor=base, font=\tfont] at (152pt,472pt) {500-hPa lows: MJJASO};
\node[anchor=base west, font=\tfont] at (335pt,472pt) {(\textit{b})};
\node[anchor=base, font=\tfont] at (460pt,472pt) {Surface lows: MJJASO};
\node[anchor=base west, font=\tfont] at (645pt,472pt) {(\textit{c})};
\node[anchor=base, font=\tfont] at (772pt,472pt) {Deep lows: MJJASO};
\node[anchor=base west, font=\tfont] at (23pt,219pt) {(\textit{d})};
\node[anchor=base, font=\tfont] at (152pt,219pt) {500-hPa lows: NDJFMA};
\node[anchor=base west, font=\tfont] at (335pt,219pt) {(\textit{e})};
\node[anchor=base, font=\tfont] at (461pt,219pt) {Surface lows: NDJFMA};
\node[anchor=base west, font=\tfont] at (645pt,219pt) {(\textit{f})};
\node[anchor=base, font=\tfont] at (774pt,219pt) {Deep lows: NDJFMA};
\end{tikzpicture}
\end{document}
